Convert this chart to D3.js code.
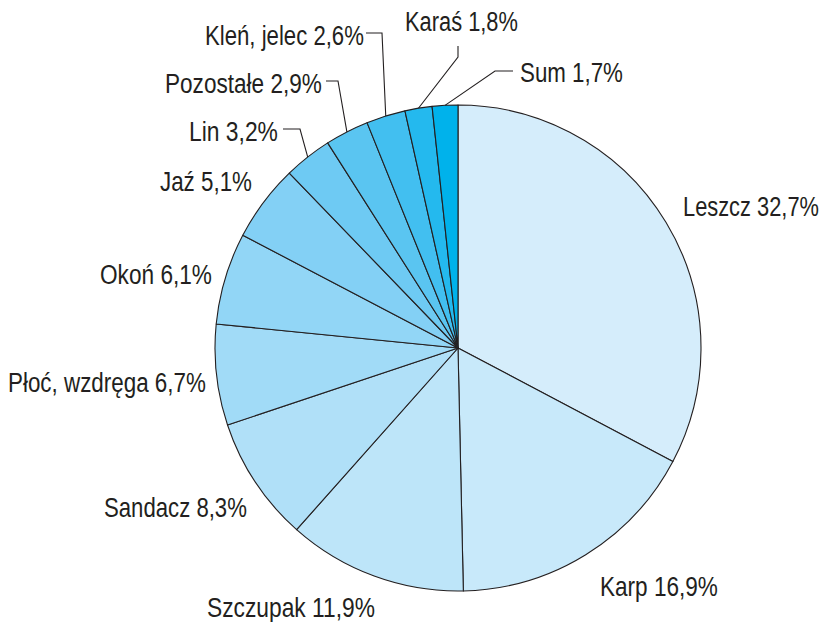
<!DOCTYPE html>
<html>
<head>
<meta charset="utf-8">
<script src="https://cdn.jsdelivr.net/npm/d3@7"></script>
<style>
  html, body { margin: 0; padding: 0; background: #fff; }
  svg { display: block; }
  text { font-family: "Liberation Sans Narrow", "Liberation Sans", Arial, sans-serif; fill: #231f20; }
</style>
</head>
<body>
<svg id="chart" width="823" height="622"></svg>
<script>
// ---- data ----
const categories = ["Leszcz", "Karp", "Szczupak", "Sandacz", "Płoć, wzdręga", "Okoń", "Jaź", "Lin", "Pozostałe", "Kleń, jelec", "Karaś", "Sum"];
const values = [32.7, 16.9, 11.9, 8.3, 6.7, 6.1, 5.1, 3.2, 2.9, 2.6, 1.8, 1.7];
const valueLabels = ["32,7%", "16,9%", "11,9%", "8,3%", "6,7%", "6,1%", "5,1%", "3,2%", "2,9%", "2,6%", "1,8%", "1,7%"];

// ---- styling / layout ----
const colors = ["#d5edfb", "#c8e9fa", "#bde5f9", "#b0e0f8", "#a1dbf7", "#92d6f6", "#83d0f5", "#6ecaf3", "#5ac5f1", "#42bff0", "#24b9ee", "#00b2eb"];
const cx = 458, cy = 348, R = 243;
const fontSize = 27;
// label anchor: x (left), baseline y, target width; leader: label-side points
const labelLayout = [
  { x: 683, y: 216, w: 136 },
  { x: 600, y: 596, w: 118 },
  { x: 207, y: 617, w: 168 },
  { x: 104, y: 517, w: 143 },
  { x: 8,   y: 392, w: 198 },
  { x: 100, y: 284, w: 112 },
  { x: 160, y: 191, w: 92 },
  { x: 189, y: 141, w: 89,  leader: [[283, 129], [300, 129]] },
  { x: 165, y: 93,  w: 157, leader: [[326, 81], [338, 81]] },
  { x: 205, y: 45,  w: 159, leader: [[366, 33], [382, 33]] },
  { x: 405, y: 31,  w: 113, leader: [[458, 46], [458, 57]] },
  { x: 520, y: 82,  w: 103, leader: [[513, 71], [495, 71]] }
];

const data = categories.map((c, i) => ({ name: c, value: values[i], label: valueLabels[i], color: colors[i], layout: labelLayout[i] }));

const svg = d3.select("#chart");
const g = svg.append("g").attr("transform", `translate(${cx},${cy})`);

const pie = d3.pie().sort(null).value(d => d.value).startAngle(0).endAngle(2 * Math.PI);
const arc = d3.arc().innerRadius(0).outerRadius(R);
const arcs = pie(data);

g.selectAll("path.slice")
  .data(arcs)
  .join("path")
  .attr("class", "slice")
  .attr("d", arc)
  .attr("fill", d => d.data.color)
  .attr("stroke", "#231f20")
  .attr("stroke-width", 1.1)
  .attr("stroke-linejoin", "round");

// leader lines
const line = d3.line();
arcs.forEach(a => {
  const L = a.data.layout;
  if (!L.leader) return;
  const mid = (a.startAngle + a.endAngle) / 2;
  const px = cx + R * Math.sin(mid);
  const py = cy - R * Math.cos(mid);
  const pts = L.leader.concat([[px, py]]);
  svg.append("path")
    .attr("d", line(pts))
    .attr("fill", "none")
    .attr("stroke", "#231f20")
    .attr("stroke-width", 1.1);
});

// labels (scaled horizontally to match the condensed face of the original)
svg.selectAll("text.lbl")
  .data(arcs)
  .join("text")
  .attr("class", "lbl")
  .attr("x", 0)
  .attr("y", 0)
  .attr("font-size", fontSize)
  .text(d => `${d.data.name} ${d.data.label}`)
  .each(function(d) {
    const L = d.data.layout;
    const natural = this.getComputedTextLength();
    const sx = natural > 0 ? L.w / natural : 1;
    d3.select(this).attr("transform", `translate(${L.x},${L.y}) scale(${sx},1)`);
  });
</script>
</body>
</html>
